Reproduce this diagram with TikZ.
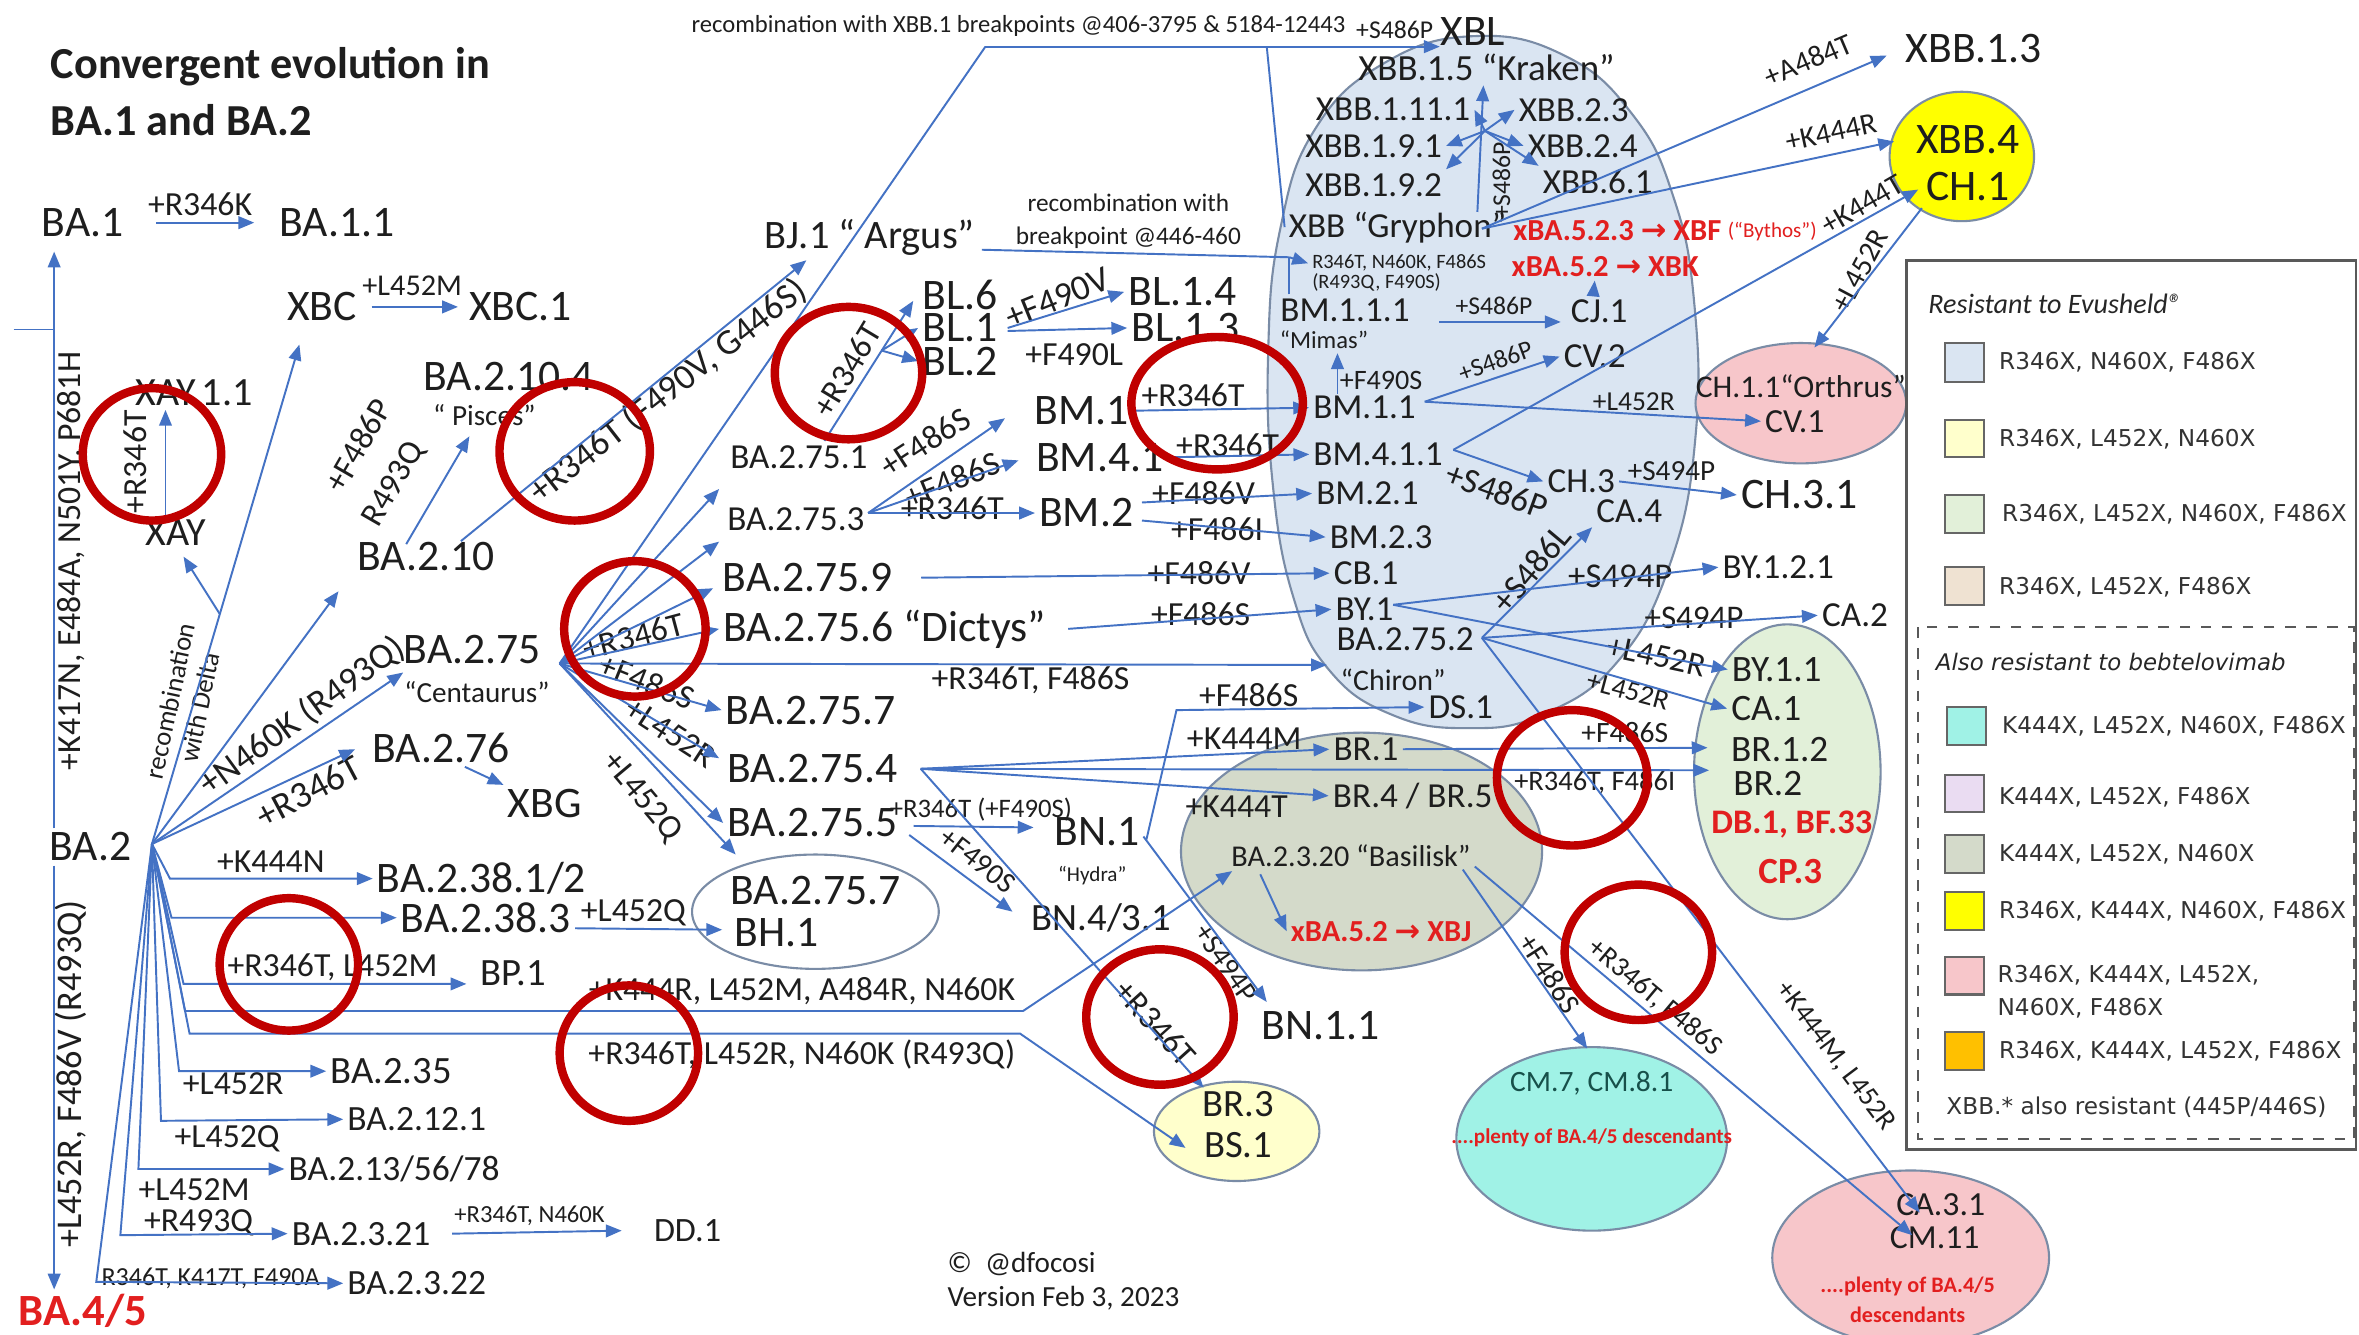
\documentclass[tikz,border=0pt]{standalone}
\usepackage{fontspec}
\setmainfont{Carlito}
\newfontfamily\dejavu{DejaVu Sans}
\usetikzlibrary{arrows.meta,calc}
\definecolor{lc}{HTML}{4472C4}
\definecolor{rc}{HTML}{C00000}
\definecolor{txt}{HTML}{1E1E1E}
\definecolor{redt}{HTML}{E21F1F}
\definecolor{tealt}{HTML}{17504A}
\definecolor{cblue}{HTML}{DAE5F2}
\definecolor{cpale}{HTML}{FFFFCC}
\definecolor{cgreen}{HTML}{E2F0D9}
\definecolor{ctan}{HTML}{EFE2D2}
\definecolor{ccyan}{HTML}{A0F2E6}
\definecolor{clav}{HTML}{EADCF2}
\definecolor{cgray}{HTML}{D4DACA}
\definecolor{cyel}{HTML}{FFFF00}
\definecolor{cpink}{HTML}{F7C6CA}
\definecolor{corg}{HTML}{FFC000}
\definecolor{eb}{HTML}{7A8CA6}
\newcommand{\fsz}[1]{\fontsize{#1}{#1}\selectfont}
\begin{document}
\begin{tikzpicture}[x=0.015045cm,y=-0.015045cm,
  every node/.style={text=txt,inner sep=1pt},
  fb/.style={font=\fsz{12.4}},
  fm/.style={font=\fsz{10}},
  fl/.style={font=\fsz{9.6}},
  rb/.style={text=redt,font=\bfseries\fsz{8.7}},
  arr/.style={draw=lc,line width=0.55pt,-{Triangle[length=4.5pt,width=3.6pt]}},
  cline/.style={draw=lc,line width=0.55pt},
  redc/.style={draw=rc,line width=2.4pt},
  blob/.style={draw=eb,line width=0.6pt},
  sw/.style={draw=gray!80!black,line width=0.6pt},
  lg/.style={anchor=west,font=\dejavu\fsz{6.6},text=black!80}]
\useasboundingbox (0,0) rectangle (1568,887);
\fill[white] (0,0) rectangle (1568,887);

% ---------- background ellipses
\draw[blob,fill=cblue] plot[smooth cycle,tension=0.75] coordinates {(980,24) (1040,37) (1085,76) (1112,130) (1126,200) (1127,290) (1110,375) (1075,440) (1025,475) (975,484) (925,475) (884,446) (860,398) (846,322) (843,232) (851,152) (874,86) (920,42)};
\draw[blob,fill=cpink] (1197,268) ellipse [x radius=70,y radius=40];
\draw[blob,fill=cgreen] (1188,513) ellipse [x radius=62,y radius=98];
\draw[blob,fill=cgray] (905,566) ellipse [x radius=120,y radius=79];
\draw[blob,fill=cpale] (822,752) ellipse [x radius=55,y radius=33];
\draw[blob,fill=white] (542,606) ellipse [x radius=82,y radius=38];
\draw[blob,fill=ccyan] (1058,757) ellipse [x radius=90,y radius=61];
\draw[blob,fill=cpink] (1270,836) ellipse [x radius=92,y radius=58];
\draw[blob,fill=cyel] (1304,104) ellipse [x radius=48,y radius=43];

% ---------- legend
\draw[draw=gray!70!black,line width=0.8pt,fill=white] (1267,173) rectangle (1566,764);
\node[anchor=west,font=\itshape\fsz{8},text=black!85] (lgh1) at (1279,202) {Resistant to Evusheld®};
\draw[sw,fill=cblue] (1293,228) rectangle (1319,254);
\node[lg] (lg1) at (1326,241) {R346X, N460X, F486X};
\draw[sw,fill=cpale] (1293,279) rectangle (1319,304);
\node[lg] (lg2) at (1326,292) {R346X, L452X, N460X};
\draw[sw,fill=cgreen] (1293,329) rectangle (1319,354);
\node[lg] (lg3) at (1328,342) {R346X, L452X, N460X, F486X};
\draw[sw,fill=ctan] (1293,377) rectangle (1319,402);
\node[lg] (lg4) at (1326,390) {R346X, L452X, F486X};
\draw[draw=gray!70!black,dashed,line width=0.6pt] (1275,417) rectangle (1565,757);
\node[anchor=west,font=\dejavu\itshape\fsz{6.5},text=black!85] (lgh2) at (1284,440) {Also resistant to bebtelovimab};
\draw[sw,fill=ccyan] (1294,470) rectangle (1320,495);
\node[lg] (lg5) at (1328,483) {K444X, L452X, N460X, F486X};
\draw[sw,fill=clav] (1293,515) rectangle (1319,540);
\node[lg] (lg6) at (1326,530) {K444X, L452X, F486X};
\draw[sw,fill=cgray] (1293,555) rectangle (1319,580);
\node[lg] (lg7) at (1326,568) {K444X, L452X, N460X};
\draw[sw,fill=cyel] (1293,593) rectangle (1319,618);
\node[lg] (lg8) at (1326,606) {R346X, K444X, N460X, F486X};
\draw[sw,fill=cpink] (1293,636) rectangle (1319,661);
\node[lg,align=left] (lg9) at (1325,659) {R346X, K444X, L452X,\\[2.8pt]N460X, F486X};
\draw[sw,fill=corg] (1293,686) rectangle (1319,711);
\node[lg] (lg10) at (1326,699) {R346X, K444X, L452X, F486X};
\node[lg] (lg11) at (1291,736) {XBB.* also resistant (445P/446S)};

% ---------- title
\node[anchor=west,font=\bfseries\fsz{12.6}] (t1) at (31,44) {Convergent evolution in};
\node[anchor=west,font=\bfseries\fsz{12.6}] (t2) at (31,80) {BA.1 and BA.2};

% ---------- left nodes
\node[fb] (ba1) at (55,148) {BA.1};
\node[fb] (ba11) at (224,148) {BA.1.1};
\node[fl] (lR346K) at (133,136) {+R346K};
\node[fb] (xbc) at (214,204) {XBC};
\node[fb] (xbc1) at (346,204) {XBC.1};
\node[font=\fsz{8.6}] (lL452M) at (274,190) {+L452M};
\node[font=\fsz{11.4}] (xay11) at (129,261) {XAY.1.1};
\node[font=\fsz{11.4}] (xay) at (117,354) {XAY};
\node[fl,rotate=90] (lxay) at (90,307) {+R346T};
\node[fb] (ba2) at (60,563) {BA.2};
\node[text=redt,font=\bfseries\fsz{12.7}] (ba45) at (55,871) {BA.4/5};
\node[fl,rotate=90] (lK417N) at (47,373) {+K417N, E484A, N501Y, P681H};
\node[font=\fsz{10.3},rotate=90] (lL452Rv) at (47,714) {+L452R, F486V (R493Q)};
\node[font=\fsz{7.6},rotate=78,align=center] (lrecomb) at (123,468) {recombination\\[1pt]with Delta};
\node[fb] (ba2104) at (338,250) {BA.2.10.4};
\node[font=\fsz{8.3}] (pisces) at (322,276) {“ Pisces”};
\node[fl,rotate=60] (lF486P) at (238,296) {+F486P};
\node[fl,rotate=60] (lR493Qa) at (262,322) {R493Q};
\node[fb] (ba210) at (283,370) {BA.2.10};
\node[fb] (ba275) at (314,432) {BA.2.75};
\node[font=\fsz{8.3}] (centaurus) at (317,460) {“Centaurus”};
\node[fb] (ba276) at (293,497) {BA.2.76};
\node[fb] (xbg) at (362,534) {XBG};
\node[font=\fsz{10.3},rotate=36] (lN460K) at (201,476) {+N460K (R493Q)};
\node[font=\fsz{10.6},rotate=28] (lR346Tb) at (205,526) {+R346T};

\node[fb] (ba23812) at (320,584) {BA.2.38.1/2};
\node[fb] (ba2383) at (323,610) {BA.2.38.3};
\node[fl] (lK444N) at (180,573) {+K444N};
\node[font=\fsz{11}] (bp1) at (341,647) {BP.1};
\node[fl] (lR346TL452M) at (221,643) {+R346T, L452M};
\node[fl] (lK444R4) at (533,659) {+K444R, L452M, A484R, N460K};
\node[fl] (lR346T4) at (533,701) {+R346T, L452R, N460K (R493Q)};
\node[font=\fsz{11}] (ba235) at (260,712) {BA.2.35};
\node[fl] (lL452Rb) at (155,720) {+L452R};
\node[font=\fsz{10.1}] (ba2121) at (277,744) {BA.2.12.1};
\node[fl] (lL452Qb) at (151,757) {+L452Q};
\node[font=\fsz{10.1}] (ba21356) at (262,777) {BA.2.13/56/78};
\node[fl] (lL452Mb) at (129,791) {+L452M};
\node[font=\fsz{10.1}] (ba2321) at (240,820) {BA.2.3.21};
\node[fl] (lR493Qb) at (132,813) {+R493Q};
\node[font=\fsz{10.1}] (ba2322) at (277,853) {BA.2.3.22};
\node[font=\fsz{7.4}] (lR346TK417T) at (140,850) {R346T, K417T, F490A};
\node[font=\fsz{9.7}] (dd1) at (457,818) {DD.1};
\node[font=\fsz{7}] (lR346TN460K) at (352,808) {+R346T, N460K};
\node[fl] (lL452Qc) at (421,607) {+L452Q};
\node[fb] (ba2757b) at (542,592) {BA.2.75.7};
\node[fb] (bh1) at (516,620) {BH.1};

% ---------- BA.2.75 descendants
\node[fm] (ba2751) at (531,304) {BA.2.75.1};
\node[fm] (ba2753) at (529,345) {BA.2.75.3};
\node[fb] (ba2759) at (537,384) {BA.2.75.9};
\node[fb] (ba2756) at (588,418) {BA.2.75.6 “Dictys”};
\node[fb] (ba2757) at (539,472) {BA.2.75.7};
\node[fb] (ba2754) at (540,511) {BA.2.75.4};
\node[fb] (ba2755) at (540,547) {BA.2.75.5};
\node[fl,rotate=15] (lR346Tc) at (421,423) {+R346T};
\node[fl,rotate=-22] (lF486Sa) at (430,453) {+F486S};
\node[fl,rotate=-33] (lL452Ra) at (446,487) {+L452R};
\node[fl,rotate=-50] (lL452Qa) at (427,530) {+L452Q};
\node[font=\fsz{10.3},rotate=38] (lBJ) at (444,260) {+R346T (F490V, G446S)};
\node[font=\fsz{11.5}] (bj1) at (578,158) {BJ.1 “ Argus”};
\node[font=\fsz{7.2},align=center] (lrec2) at (750,147) {recombination with\\[2pt]breakpoint @446-460};
\node[font=\fsz{7}] (lrec1) at (677,17) {recombination with XBB.1 breakpoints @406-3795 \& 5184-12443};
\node[font=\fsz{7.3}] (lS486Pt) at (927,20) {+S486P};
\node[fb] (xbl) at (979,21) {XBL};

\node[fl,rotate=59] (lR346TBL) at (563,246) {+R346T};
\node[fb] (bl6) at (638,196) {BL.6};
\node[fb] (bl1) at (638,218) {BL.1};
\node[fb] (bl2) at (638,240) {BL.2};
\node[font=\fsz{10.2},rotate=22] (lF490V) at (703,198) {+F490V};
\node[fl] (lF490L) at (714,236) {+F490L};
\node[fb] (bl14) at (786,194) {BL.1.4};
\node[fb] (bl13) at (788,218) {BL.1.3};
\node[fb] (bm1) at (719,273) {BM.1};
\node[fb] (bm41) at (731,304) {BM.4.1};
\node[fb] (bm2) at (722,341) {BM.2};
\node[fl,rotate=33] (lF486Sb) at (615,294) {+F486S};
\node[fl,rotate=22] (lF486Sc) at (633,319) {+F486S};
\node[fl] (lR346Te) at (633,338) {+R346T};
\node[fl] (lR346Td) at (793,263) {+R346T};
\node[fl] (lR346Tf) at (816,296) {+R346T};
\node[fl] (lF486Va) at (800,328) {+F486V};
\node[fl] (lF486I) at (809,352) {+F486I};
\node[fl] (lF486Vb) at (797,381) {+F486V};
\node[fl] (lF486Sd) at (798,408) {+F486S};
\node[fl] (lR346TF486S) at (685,452) {+R346T, F486S};
\node[fl] (lF486Se) at (830,462) {+F486S};
\node[fl] (lK444M) at (827,491) {+K444M};
\node[fl] (lK444T) at (822,536) {+K444T};
\node[fb] (bn1) at (729,553) {BN.1};
\node[font=\fsz{6}] (hydra) at (726,582) {“Hydra”};
\node[font=\fsz{11}] (bn431) at (732,610) {BN.4/3.1};
\node[fb] (bn11) at (878,682) {BN.1.1};
\node[font=\fsz{7.6}] (lR346TF490S) at (652,538) {+R346T (+F490S)};
\node[font=\fsz{8.4},rotate=-38] (lF490S) at (650,572) {+F490S};
\node[font=\fsz{8.4},rotate=-55] (lS494Pa) at (815,640) {+S494P};
\node[fl,rotate=-48] (lR346Tg) at (768,680) {+R346T};
\node[font=\fsz{11}] (br3) at (823,734) {BR.3};
\node[font=\fsz{11}] (bs1) at (823,761) {BS.1};

% ---------- blue shape content
\node[font=\fsz{10.5}] (xbb15) at (988,45) {XBB.1.5 “Kraken”};
\node[fm] (xbb11111) at (926,73) {XBB.1.11.1};
\node[fm] (xbb23) at (1046,73) {XBB.2.3};
\node[fm] (xbb191) at (913,97) {XBB.1.9.1};
\node[fm] (xbb24) at (1052,97) {XBB.2.4};
\node[fm] (xbb192) at (913,123) {XBB.1.9.2};
\node[fm] (xbb61) at (1062,121) {XBB.6.1};
\node[font=\fsz{7.3},rotate=90] (lS486Pv) at (998,120) {+S486P};
\node[fm] (xbb) at (929,151) {XBB “Gryphon”};
\node[font=\fsz{5.8}] (xbbm1) at (930,175) {R346T, N460K, F486S};
\node[font=\fsz{5.8}] (xbbm2) at (915,188) {(R493Q, F490S)};
\node[rb] (xbf) at (1075,153) {xBA.5.2.3 {\dejavu →} XBF};
\node[text=redt,font=\fsz{6}] (bythos) at (1178,154) {(“Bythos”)};
\node[rb] (xbk) at (1067,177) {xBA.5.2 {\dejavu →} XBK};
\node[fm] (bm111) at (894,206) {BM.1.1.1};
\node[font=\fsz{7.3}] (lS486Pa) at (993,203) {+S486P};
\node[fm] (cj1) at (1063,207) {CJ.1};
\node[font=\fsz{7}] (mimas) at (880,226) {“Mimas”};
\node[font=\fsz{8}] (lF490Sb) at (918,253) {+F490S};
\node[fm] (bm11) at (907,271) {BM.1.1};
\node[fm] (cv2) at (1060,237) {CV.2};
\node[font=\fsz{7.3},rotate=20] (lS486Pb) at (994,240) {+S486P};
\node[font=\fsz{7.8}] (lL452Rc) at (1086,267) {+L452R};
\node[font=\fsz{9}] (ch11) at (1197,257) {CH.1.1“Orthrus”};
\node[font=\fsz{9.6}] (cv1) at (1193,280) {CV.1};
\node[fm] (bm411) at (916,302) {BM.4.1.1};
\node[font=\fsz{10},rotate=-20] (lS486Pc) at (995,326) {+S486P};
\node[fm] (ch3) at (1051,320) {CH.3};
\node[font=\fsz{8.3}] (lS494Pb) at (1111,313) {+S494P};
\node[fb] (ch31) at (1196,329) {CH.3.1};
\node[fm] (bm21) at (909,328) {BM.2.1};
\node[fm] (bm23) at (918,357) {BM.2.3};
\node[fm] (cb1) at (908,381) {CB.1};
\node[fm] (by1) at (907,405) {BY.1};
\node[fm] (ba2752) at (934,425) {BA.2.75.2};
\node[font=\fsz{8.5}] (chiron) at (926,452) {“Chiron”};
\node[fm] (ds1) at (971,470) {DS.1};
\node[fm] (ca4) at (1083,340) {CA.4};
\node[font=\fsz{10},rotate=50] (lS486L) at (1018,378) {+S486L};
\node[fm] (by121) at (1182,377) {BY.1.2.1};
\node[font=\fsz{9.9}] (lS494Pc) at (1077,383) {+S494P};
\node[fm] (ca2) at (1233,409) {CA.2};
\node[font=\fsz{9.4}] (lS494Pd) at (1126,411) {+S494P};
\node[font=\fsz{9.5},rotate=-12] (lL452Rd) at (1101,436) {+L452R};
\node[font=\fsz{8},rotate=-15] (lL452Re) at (1082,459) {+L452R};

% ---------- green, gray, cyan, pink
\node[font=\fsz{10.6}] (by11) at (1181,445) {BY.1.1};
\node[font=\fsz{10.6}] (ca1) at (1174,471) {CA.1};
\node[font=\fsz{10.6}] (br12) at (1183,498) {BR.1.2};
\node[font=\fsz{10.6}] (br2) at (1175,521) {BR.2};
\node[text=redt,font=\bfseries\fsz{9.8}] (db1) at (1191,548) {DB.1, BF.33};
\node[text=redt,font=\bfseries\fsz{10.5}] (cp3) at (1190,579) {CP.3};
\node[font=\fsz{8.4}] (lF486Sf) at (1080,487) {+F486S};
\node[font=\fsz{8.1}] (lR346TF486I) at (1060,520) {+R346T, F486I};
\node[fm] (br1) at (908,498) {BR.1};
\node[fm] (br45) at (939,529) {BR.4 / BR.5};
\node[font=\fsz{8.6}] (bas) at (898,569) {BA.2.3.20 “Basilisk”};
\node[rb] (xbj) at (918,619) {xBA.5.2 {\dejavu →} XBJ};
\node[font=\fsz{8.5},rotate=-57] (lF486Sg) at (1030,647) {+F486S};
\node[font=\fsz{8},rotate=-40] (lR346TF486Sb) at (1100,663) {+R346T, F486S};
\node[font=\fsz{8},rotate=-53] (lK444ML452R) at (1220,702) {+K444M, L452R};
\node[text=tealt,font=\fsz{8.4}] (cm7) at (1058,720) {CM.7, CM.8.1};
\node[text=redt,font=\bfseries\fsz{6}] (plenty1) at (1058,756) {....plenty of BA.4/5 descendants};
\node[font=\fsz{9.6}] (ca31) at (1290,801) {CA.3.1};
\node[font=\fsz{9.6}] (cm11) at (1286,823) {CM.11};
\node[text=redt,font=\bfseries\fsz{6.3},align=center] (plenty2) at (1268,864) {....plenty of BA.4/5\\[2pt]descendants};

\node[fb] (xbb13) at (1312,32) {XBB.1.3};
\node[fb] (xbb4) at (1308,93) {XBB.4};
\node[fb] (ch1) at (1308,124) {CH.1};
\node[font=\fsz{8.5},rotate=23] (lA484T) at (1202,40) {+A484T};
\node[font=\fsz{8.5},rotate=12] (lK444Rb) at (1217,88) {+K444R};
\node[font=\fsz{8.5},rotate=30] (lK444Tb) at (1238,136) {+K444T};
\node[font=\fsz{8.5},rotate=62] (lL452Rf) at (1236,180) {+L452R};

\node[anchor=west,font=\fsz{8.3}] (copy) at (627,840) {©\ \ @dfocosi};
\node[anchor=west,font=\fsz{8.3}] (ver) at (627,863) {Version Feb 3, 2023};

% ---------- coordinates
\coordinate (o2) at (101,561);
\coordinate (colL) at (36,0);
\coordinate (stub) at (9,219);
\coordinate (tXBC) at (199,229);
\coordinate (j1) at (146,408);
\coordinate (tXAY) at (122,370);
\coordinate (tBA210) at (225,393);
\coordinate (tBA275) at (268,447);
\coordinate (tBA276) at (236,498);
\coordinate (tBP1) at (310,654);
\coordinate (tBas) at (819,579);
\coordinate (tBS1) at (788,763);
\coordinate (tBH1) at (480,618);
\coordinate (tPis) at (312,290);
\coordinate (tBJ1) at (536,173);
\coordinate (o275) at (372,441);
\coordinate (cXBL) at (655,31);
\coordinate (tXBL) at (957,31);
\coordinate (cXBB1) at (842,31);
\coordinate (t2751) at (478,325);
\coordinate (t2753) at (478,360);
\coordinate (t2759) at (474,391);
\coordinate (t2754) at (478,504);
\coordinate (tBH1b) at (489,568);
\coordinate (tChiron) at (882,442);
\coordinate (sBL) at (548,293);
\coordinate (jBL) at (586,233);
\coordinate (tBL6) at (607,200);
\coordinate (o2753) at (577,341);
\coordinate (tBM1) at (668,278);
\coordinate (tBM41) at (677,306);
\coordinate (o2754) at (612,511);
\coordinate (tBR2) at (1136,512);
\coordinate (tBR3) at (800,723);
\coordinate (tBR12) at (1135,497);
\coordinate (tBN1) at (687,550);
\coordinate (tBN43) at (673,606);
\coordinate (eDS) at (782,472);
\coordinate (tBN11) at (842,666);
\coordinate (cJ) at (857,171);
\coordinate (hub) at (987,87);
\coordinate (oBM11) at (947,267);
\coordinate (oBM411) at (966,299);
\coordinate (tCH1) at (1275,126);
\coordinate (oXBB) at (985,152);
\coordinate (tXBB13) at (1254,37);
\coordinate (tXBB4) at (1259,94);
\coordinate (tCH11) at (1206,231);
\coordinate (o2752) at (985,424);
\coordinate (oBY1) at (926,402);
\coordinate (tCA31) at (1276,806);
\coordinate (tCM7) at (1055,697);
\coordinate (tCM11) at (1271,821);

% ---------- connectors, left
\draw[arr] ([xshift=8pt]ba1.east) -- ([xshift=-6pt]ba11.west);
\draw[arr] ([xshift=3pt]xbc.east) -- ([xshift=-2pt]xbc1.west);
\draw[arr] ($(xay.north)+(-7,0)$) -- ($(xay11.south)+(-19,0)$);
\draw[arr,shorten >=3pt] (ba2.north -| colL) -- (ba1.south -| colL);
\draw[cline] (stub) -- (stub -| colL);
\draw[arr] (ba2.south -| colL) -- (ba45.north -| colL);
\draw[arr] (o2) -- (tXBC);
\draw[arr] (j1) -- (tXAY);
\draw[arr] (o2) -- (tBA210);
\draw[arr] (o2) -- (tBA275);
\draw[arr] (o2) -- (tBA276);
\draw[arr] (o2) -- (113,584) -- (ba23812.west);
\draw[arr] (o2) -- (114,610) -- (ba2383.west);
\draw[arr] (o2) -- (122,654) -- (tBP1);
\draw[arr] (o2) -- (123,672) -- (680,672) -- (tBas);
\draw[arr] (o2) -- (126,687) -- (678,687) -- (tBS1);
\draw[arr] (o2) -- (119,712) -- (ba235.west);
\draw[arr] (o2) -- (107,745) -- (ba2121.west);
\draw[arr] (o2) -- (92,777) -- (ba21356.west);
\draw[arr] (o2) -- (80,821) -- (ba2321.west);
\draw[arr] (o2) -- (64,852) -- (ba2322.west);
\draw[arr] ([xshift=5pt]ba2321.east) -- ([xshift=-8pt]dd1.west);
\draw[arr] ($(ba2383.east)+(0,7)$) -- (tBH1);
\draw[arr] ($(ba276.south)+(16,0)$) -- (xbg.north west);
\draw[arr] ($(ba210.north)+(-13,4)$) -- (tPis);
\draw[arr] ($(ba210.north east)+(-25,2)$) -- (tBJ1);

% ---------- BA.2.75 fan
\draw[cline] (o275) -- (cXBL);
\draw[arr] (cXBL) -- (tXBL);
\draw[cline] (xbb.west) -- (cXBB1);
\draw[arr] (o275) -- (t2751);
\draw[arr] (o275) -- (t2753);
\draw[arr] (o275) -- (t2759);
\draw[arr] (o275) -- (ba2756.west);
\draw[arr] (o275) -- (ba2757.west);
\draw[arr] (o275) -- (t2754);
\draw[arr] (o275) -- (ba2755.west);
\draw[arr] (o275) -- (tBH1b);
\draw[arr] (o275) -- (tChiron);
\draw[arr] (sBL) -- (tBL6);
\draw[arr] (jBL) -- (bl1.west);
\draw[arr] (jBL) -- (bl2.west);
\draw[arr] ($(bl1.east)+(4,0)$) -- (bl14.west);
\draw[arr] ($(bl1.east)+(4,2)$) -- (bl13.west);
\draw[cline] ($(bj1.east)+(2,8)$) -- (cJ);
\draw[arr] (cJ) -- (xbbm1.west);
\draw[cline] ($(bm111.north)+(-37,0)$) |- (cJ);
\draw[arr] (o2753) -- (tBM1);
\draw[arr] (o2753) -- (tBM41);
\draw[arr] (o2753) -- (bm2.west);
\draw[arr] (bm1.east) -- (bm11.west);
\draw[arr] (bm41.east) -- (bm411.west);
\draw[arr] ($(bm2.east)+(3,-7)$) -- (bm21.west);
\draw[arr] ($(bm2.east)+(3,5)$) -- (bm23.west);
\draw[arr] ($(ba2759.east)+(16,0)$) -- (cb1.west);
\draw[arr] ($(ba2756.east)+(12,0)$) -- (by1.west);
\draw[arr] (o2754) -- (br1.west);
\draw[arr] (o2754) -- (br45.west);
\draw[arr] (o2754) -- (tBR2);
\draw[arr] (o2754) -- (tBR3);
\draw[arr] (br1.east) -- (tBR12);
\draw[arr] ($(ba2755.east)+(8,2)$) -- (tBN1);
\draw[arr] ($(ba2755.east)+(5,8)$) -- (tBN43);
\draw[arr] ($(bn1.east)+(2,5)$) -- (eDS) -- (ds1.west);
\draw[arr] ($(bn1.east)+(0,3)$) -- (tBN11);

% ---------- blue shape connectors
\draw[arr] ($(xbb.north)+(53,3)$) -- ($(xbb15.south)+(-2,0)$);
\draw[arr] (hub) -- (xbb11111.east);
\draw[arr] (hub) -- (xbb23.west);
\draw[arr] (hub) -- (xbb191.east);
\draw[arr] (hub) -- (xbb192.north east);
\draw[arr] (hub) -- (xbb24.west);
\draw[arr] (hub) -- (xbb61.north west);
\draw[arr] ($(bm111.east)+(17,8)$) -- ($(cj1.west)+(-4,7)$);
\draw[arr] ($(cj1.north)+(-4,0)$) -- ($(xbk.south)+(-7,0)$);
\draw[arr] ($(bm11.north)+(-18,1)$) -- ($(mimas.south)+(9,0)$);
\draw[arr] (oBM11) -- (cv2.west);
\draw[arr] (oBM11) -- (cv1.west);
\draw[arr] (oBM411) -- (ch3.west);
\draw[arr] (oBM411) -- (tCH1);
\draw[arr] (ch3.east) -- (ch31.west);
\draw[arr] (oXBB) -- (tXBB13);
\draw[arr] (oXBB) -- (tXBB4);
\draw[arr] ($(ch1.south west)+(0,2)$) -- (tCH11);
\draw[arr] (o2752) -- (ca4.south west);
\draw[arr] (oBY1) -- (by121.west);
\draw[arr] (o2752) -- (ca2.west);
\draw[arr] (oBY1) -- (by11.west);
\draw[arr] (o2752) -- (ca1.west);
\draw[arr] (o2752) -- (tCA31);
\draw[arr] ($(bas.east)+(-8,9)$) -- (tCM7);
\draw[arr] ($(bas.east)+(0,7)$) -- (tCM11);
\draw[arr] ($(bas.south west)+(22,2)$) -- (xbj.west);

% ---------- red circles
\draw[redc] (101,302) ellipse [x radius=46,y radius=44];
\draw[redc] (382,300) ellipse [x radius=50,y radius=46];
\draw[redc] (564,248) ellipse [x radius=49,y radius=44];
\draw[redc] (809,268) ellipse [x radius=57,y radius=44];
\draw[redc] (422,418) ellipse [x radius=47,y radius=45];
\draw[redc] (192,641) ellipse [x radius=46,y radius=44];
\draw[redc] (418,700) ellipse [x radius=46,y radius=45];
\draw[redc] (771,676) ellipse [x radius=49,y radius=45];
\draw[redc] (1045,517) ellipse [x radius=50,y radius=45];
\draw[redc] (1089,633) ellipse [x radius=49,y radius=45];
\end{tikzpicture}
\end{document}
